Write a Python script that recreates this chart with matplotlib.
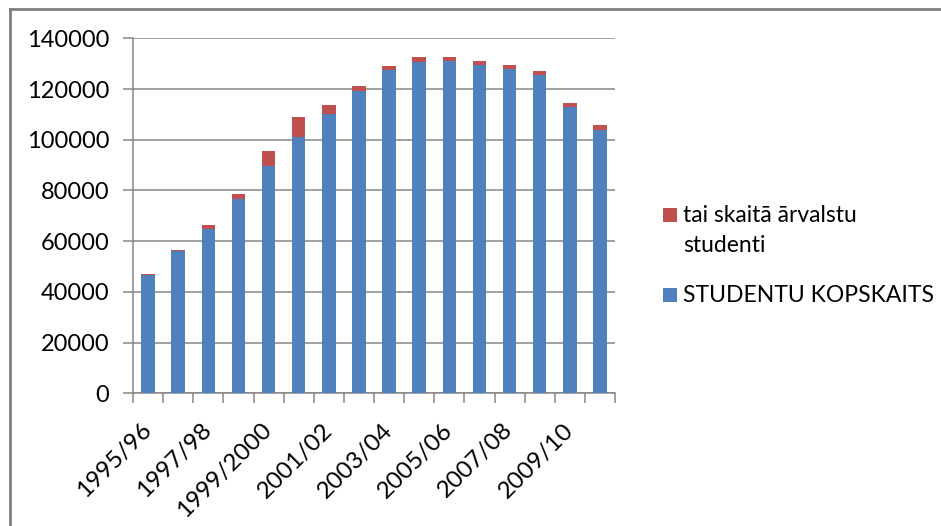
import matplotlib
matplotlib.use("Agg")
import matplotlib.pyplot as plt
from matplotlib.patches import Rectangle
from matplotlib.lines import Line2D
import numpy as np

plt.rcParams['font.family'] = ['Lato', 'DejaVu Sans']

categories = ['1995/96', '1996/97', '1997/98', '1998/99', '1999/2000', '2000/01',
              '2001/02', '2002/03', '2003/04', '2004/05', '2005/06', '2006/07',
              '2007/08', '2008/09', '2009/10', '2010/11']
total_students = [46500, 56000, 64800, 76600, 89800, 101100, 110300, 119200,
                  127500, 130600, 131000, 129500, 127900, 125500, 112900, 103800]
foreign_students = [500, 500, 1600, 2000, 5700, 7900, 3400, 2000,
                    1600, 2000, 1600, 1500, 1600, 1600, 1600, 2000]
yticks = [0, 20000, 40000, 60000, 80000, 100000, 120000, 140000]
label_total = 'STUDENTU KOPSKAITS'
label_foreign_lines = ['tai skaitā ārvalstu', 'studenti']

BLUE = '#4F81BD'
RED = '#C0504D'
GRID = '#868686'

W, H = 941, 526
fig = plt.figure(figsize=(W / 100, H / 100), dpi=100)
fig.patch.set_facecolor('white')

ax = fig.add_axes([133 / W, 1 - 393.3 / H, (615 - 133) / W, (393.3 - 38.3) / H])
x = np.arange(len(categories))
bw = 0.45
ax.bar(x, total_students, bw, color=BLUE, label=label_total, zorder=3)
ax.bar(x, foreign_students, bw, bottom=total_students, color=RED,
       label=' '.join(label_foreign_lines), zorder=3)

ax.set_xlim(-0.5, len(categories) - 0.5)
ax.set_ylim(0, 140000)
ax.set_yticks(yticks)
ax.set_yticklabels([str(v) for v in yticks])
ax.yaxis.grid(True, color=GRID, linewidth=1.1, zorder=0)
ax.set_axisbelow(True)

# category boundary ticks (major, unlabeled) and labels (minor) every other category
ax.set_xticks(np.arange(len(categories) + 1) - 0.5)
ax.set_xticklabels([])
ax.set_xticks(x[::2], minor=True)
ax.set_xticklabels(categories[::2], minor=True, rotation=45, ha='right',
                   va='center', rotation_mode='anchor')
ax.tick_params(axis='x', which='major', length=7, width=1.1, color=GRID,
               direction='out')
ax.tick_params(axis='x', which='minor', length=0, pad=24, labelsize=17.5)
ax.tick_params(axis='y', length=7, width=1.1, color=GRID, direction='out',
               pad=10, labelsize=17)

for s in ['top', 'right']:
    ax.spines[s].set_visible(False)
for s in ['left', 'bottom']:
    ax.spines[s].set_color(GRID)
    ax.spines[s].set_linewidth(1.1)

# legend drawn in Excel style (square aligned to the first text line)
def fx(px):
    return px / W

def fy(py):
    return 1 - py / H

sq = 14
lfs = 16.5
fig.add_artist(Rectangle((fx(663), fy(222)), sq / W, sq / H, transform=fig.transFigure,
                         facecolor=RED, edgecolor='none'))
fig.text(fx(683), fy(222), label_foreign_lines[0], fontsize=lfs, va='baseline',
         ha='left', transform=fig.transFigure)
fig.text(fx(683), fy(252), label_foreign_lines[1], fontsize=lfs, va='baseline',
         ha='left', transform=fig.transFigure)
fig.add_artist(Rectangle((fx(663), fy(302)), sq / W, sq / H, transform=fig.transFigure,
                         facecolor=BLUE, edgecolor='none'))
fig.text(fx(683), fy(302), label_total, fontsize=lfs, va='baseline', ha='left',
         transform=fig.transFigure)

# chart area border (left and top only visible)
fig.add_artist(Line2D([fx(10), fx(10)], [fy(9), 0], transform=fig.transFigure,
                      color='#7F7F7F', linewidth=2))
fig.add_artist(Line2D([fx(10), 1], [fy(9), fy(9)], transform=fig.transFigure,
                      color='#7F7F7F', linewidth=2))

fig.savefig('out.png', dpi=100)
